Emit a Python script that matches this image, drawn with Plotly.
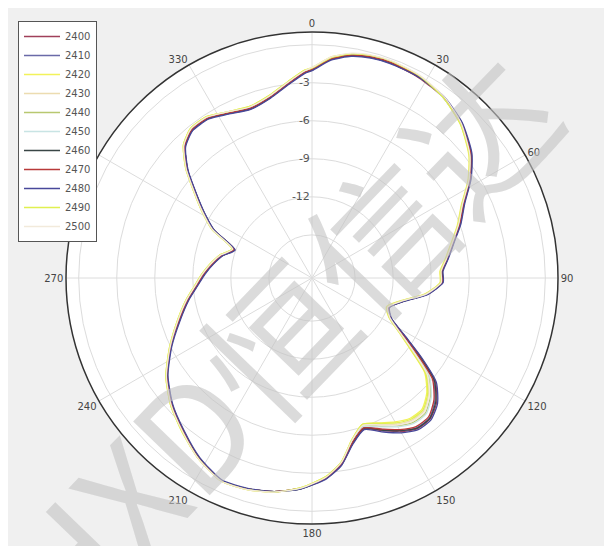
import plotly.graph_objects as go

# Angles (degrees, clockwise from top)
THETA = [0, 5, 10, 15, 20, 28, 36, 44, 52, 58,
         64, 70, 76, 82, 87, 92, 98, 104, 111, 117,
         122, 126, 130, 135, 140, 145, 150, 155, 161, 166,
         171, 176, 183, 190, 197, 204, 212, 220, 228, 236,
         244, 252, 260, 266, 272, 278, 284, 290, 296, 301,
         306, 311, 316, 321, 327, 333, 340, 347, 353, 358]

FREQS = ["2400", "2410", "2420", "2430", "2440", "2450",
         "2460", "2470", "2480", "2490", "2500"]

s2400 = [-2.0, -1.1, -0.6, -0.4, -0.35, -0.5, -0.8, -1.4, -2.5, -3.7,
         -5.1, -6.0, -6.9, -7.6, -8.1, -8.1, -9.2, -10.9, -11.9, -11.4,
         -9.8, -7.8, -5.7, -4.5, -3.9, -3.9, -4.4, -5.1, -5.8, -5.0,
         -3.5, -2.6, -1.8, -1.3, -1.0, -0.9, -1.6, -2.6, -3.5, -4.6,
         -6.0, -7.4, -8.5, -9.3, -9.9, -10.5, -11.1, -11.9, -9.8, -8.4,
         -7.1, -5.4, -4.0, -3.4, -3.4, -3.8, -4.2, -3.8, -3.0, -2.2]
s2410 = [-1.95, -1.05, -0.55, -0.35, -0.3, -0.45, -0.75, -1.4, -2.5, -3.7,
         -5.1, -6.0, -6.95, -7.65, -8.15, -8.15, -9.25, -10.9, -11.95, -11.45,
         -9.9, -8.0, -5.9, -4.7, -4.0, -4.0, -4.5, -5.2, -5.9, -5.1,
         -3.5, -2.6, -1.75, -1.3, -1.0, -0.9, -1.6, -2.6, -3.5, -4.6,
         -6.0, -7.35, -8.45, -9.25, -9.85, -10.45, -11.05, -11.85, -9.8, -8.5,
         -7.1, -5.4, -4.0, -3.35, -3.35, -3.8, -4.15, -3.75, -2.95, -2.15]
s2420 = [-1.8, -0.9, -0.45, -0.25, -0.2, -0.35, -0.8, -1.55, -2.7, -3.9,
         -5.3, -6.2, -7.1, -7.8, -8.3, -8.3, -9.4, -11.1, -12.1, -11.6,
         -10.3, -8.8, -6.8, -5.6, -4.9, -4.9, -5.3, -5.8, -6.2, -5.3,
         -3.7, -2.7, -1.85, -1.25, -0.95, -0.85, -1.55, -2.5, -3.4, -4.5,
         -5.9, -7.2, -8.3, -9.1, -9.7, -10.3, -10.9, -11.7, -9.6, -8.3,
         -6.9, -5.2, -3.8, -3.2, -3.2, -3.7, -4.0, -3.6, -2.8, -2.0]
s2430 = [-1.85, -0.95, -0.45, -0.25, -0.2, -0.35, -0.75, -1.5, -2.65, -3.85,
         -5.25, -6.15, -7.05, -7.75, -8.25, -8.25, -9.35, -11.05, -12.05, -11.55,
         -10.2, -8.6, -6.6, -5.4, -4.7, -4.7, -5.1, -5.65, -6.15, -5.25,
         -3.65, -2.65, -1.8, -1.25, -0.95, -0.85, -1.55, -2.55, -3.45, -4.55,
         -5.95, -7.25, -8.35, -9.15, -9.75, -10.35, -10.95, -11.75, -9.65, -8.35,
         -6.95, -5.25, -3.85, -3.25, -3.25, -3.7, -4.05, -3.65, -2.85, -2.05]
s2440 = [-1.9, -1.0, -0.5, -0.3, -0.25, -0.4, -0.8, -1.5, -2.6, -3.8,
         -5.2, -6.1, -7.0, -7.7, -8.2, -8.2, -9.3, -11.0, -12.0, -11.5,
         -10.1, -8.4, -6.4, -5.2, -4.5, -4.5, -4.95, -5.5, -6.05, -5.2,
         -3.6, -2.6, -1.8, -1.3, -1.0, -0.9, -1.6, -2.6, -3.5, -4.6,
         -6.0, -7.3, -8.4, -9.2, -9.8, -10.4, -11.0, -11.8, -9.7, -8.4,
         -7.0, -5.3, -3.9, -3.3, -3.3, -3.75, -4.1, -3.7, -2.9, -2.1]
s2450 = [-1.9, -1.0, -0.5, -0.3, -0.25, -0.4, -0.8, -1.5, -2.6, -3.8,
         -5.2, -6.1, -7.0, -7.7, -8.2, -8.2, -9.3, -11.0, -12.0, -11.5,
         -10.0, -8.3, -6.3, -5.1, -4.4, -4.4, -4.85, -5.45, -6.0, -5.2,
         -3.6, -2.6, -1.8, -1.3, -1.0, -0.9, -1.6, -2.6, -3.5, -4.6,
         -6.0, -7.3, -8.4, -9.2, -9.8, -10.4, -11.0, -11.8, -9.7, -8.4,
         -7.0, -5.3, -3.9, -3.3, -3.3, -3.75, -4.1, -3.7, -2.9, -2.1]
s2460 = [-2.0, -1.1, -0.6, -0.4, -0.35, -0.45, -0.75, -1.4, -2.45, -3.65,
         -5.05, -5.95, -6.9, -7.6, -8.1, -8.1, -9.2, -10.9, -11.9, -11.4,
         -9.8, -7.9, -5.8, -4.6, -3.95, -3.95, -4.5, -5.15, -5.85, -5.05,
         -3.5, -2.55, -1.75, -1.3, -1.0, -0.9, -1.65, -2.65, -3.55, -4.65,
         -6.05, -7.4, -8.5, -9.3, -9.9, -10.5, -11.1, -11.9, -9.8, -8.5,
         -7.1, -5.4, -4.0, -3.4, -3.4, -3.85, -4.2, -3.8, -3.0, -2.2]
s2470 = [-1.95, -1.05, -0.55, -0.35, -0.3, -0.4, -0.75, -1.45, -2.5, -3.7,
         -5.1, -6.0, -6.95, -7.65, -8.15, -8.15, -9.25, -10.95, -11.95, -11.45,
         -9.9, -8.1, -6.0, -4.8, -4.1, -4.1, -4.6, -5.25, -5.9, -5.1,
         -3.55, -2.6, -1.8, -1.3, -1.0, -0.9, -1.6, -2.6, -3.5, -4.6,
         -6.0, -7.35, -8.45, -9.25, -9.85, -10.45, -11.05, -11.85, -9.75, -8.45,
         -7.05, -5.35, -3.95, -3.35, -3.35, -3.8, -4.15, -3.75, -2.95, -2.15]
s2480 = [-2.05, -1.15, -0.65, -0.45, -0.4, -0.45, -0.7, -1.35, -2.4, -3.6,
         -5.0, -5.9, -6.85, -7.55, -8.05, -8.05, -9.15, -10.85, -11.85, -11.35,
         -9.7, -7.7, -5.6, -4.4, -3.8, -3.8, -4.3, -5.0, -5.75, -4.95,
         -3.45, -2.5, -1.75, -1.3, -1.05, -0.95, -1.7, -2.7, -3.6, -4.7,
         -6.1, -7.45, -8.55, -9.35, -9.95, -10.55, -11.15, -11.95, -9.85, -8.55,
         -7.15, -5.45, -4.05, -3.45, -3.45, -3.9, -4.25, -3.85, -3.05, -2.25]
s2490 = [-1.85, -0.95, -0.45, -0.25, -0.2, -0.35, -0.8, -1.55, -2.65, -3.85,
         -5.25, -6.15, -7.05, -7.75, -8.25, -8.25, -9.35, -11.05, -12.05, -11.55,
         -10.25, -8.7, -6.7, -5.5, -4.8, -4.8, -5.2, -5.75, -6.2, -5.3,
         -3.7, -2.7, -1.85, -1.25, -0.95, -0.85, -1.55, -2.5, -3.4, -4.5,
         -5.9, -7.2, -8.3, -9.1, -9.7, -10.3, -10.9, -11.7, -9.6, -8.3,
         -6.9, -5.2, -3.8, -3.2, -3.2, -3.7, -4.0, -3.6, -2.8, -2.0]
s2500 = [-1.8, -0.9, -0.4, -0.2, -0.15, -0.3, -0.7, -1.45, -2.6, -3.8,
         -5.2, -6.1, -7.0, -7.7, -8.2, -8.2, -9.3, -11.0, -12.0, -11.5,
         -10.15, -8.5, -6.5, -5.3, -4.6, -4.6, -5.0, -5.6, -6.1, -5.25,
         -3.65, -2.65, -1.8, -1.25, -0.95, -0.85, -1.55, -2.55, -3.45, -4.55,
         -5.95, -7.25, -8.35, -9.15, -9.75, -10.35, -10.95, -11.75, -9.65, -8.35,
         -6.95, -5.25, -3.85, -3.25, -3.25, -3.7, -4.05, -3.65, -2.85, -2.05]

SERIES = [s2400, s2410, s2420, s2430, s2440, s2450,
          s2460, s2470, s2480, s2490, s2500]
COLORS = ["#a0405a", "#6a6aa8", "#f2f25a", "#ecdcb0", "#b8c870", "#c8e4e4",
          "#3a4646", "#b83a3a", "#48489a", "#e0f050", "#f2eadb"]

RADIAL_TICKS = [-15, -12, -9, -6, -3, 0]
RADIAL_TEXT = ["", "-12", "-9", "-6", "-3", ""]
ANGLE_TICKS = list(range(0, 360, 30))

fig = go.Figure()
for name, vals, col in zip(FREQS, SERIES, COLORS):
    fig.add_trace(go.Scatterpolar(
        r=vals + vals[:1], theta=THETA + [360],
        mode="lines", name=name,
        line=dict(color=col, width=1.3, shape="spline", smoothing=0.6),
    ))

# The page places the figure 8 px from the window's top-left corner.
OFF = 8
W, H = 612 - OFF, 546 - OFF
# polar circle in window pixels: centre (312, 278), radius 246 px
CX, CY, RAD = 312, 278, 246


def px(x):
    return (x - OFF) / W


def py(y):
    return 1 - (y - OFF) / H


fig.update_layout(
    width=W, height=H,
    margin=dict(l=0, r=0, t=0, b=0, autoexpand=False),
    paper_bgcolor="#f0f0f0",
    font=dict(family="DejaVu Sans", size=10, color="#444444"),
    polar=dict(
        bgcolor="white",
        domain=dict(x=[px(CX - RAD), px(CX + RAD)],
                    y=[py(CY + RAD), py(CY - RAD)]),
        angularaxis=dict(
            direction="clockwise", rotation=90,
            tickmode="array", tickvals=ANGLE_TICKS,
            ticktext=[str(a) for a in ANGLE_TICKS],
            showline=True, linecolor="#333333", linewidth=1.5,
            gridcolor="#dcdcdc", gridwidth=1,
            ticks="", tickfont=dict(size=10, color="#444444"),
        ),
        radialaxis=dict(
            range=[-18.4, 1.0], angle=90, tickangle=90,
            side="counterclockwise",
            tickmode="array", tickvals=RADIAL_TICKS, ticktext=RADIAL_TEXT,
            showline=False, ticks="",
            gridcolor="#dcdcdc", gridwidth=1,
            tickfont=dict(size=11, color="#555555"),
        ),
    ),
    showlegend=True,
    legend=dict(
        x=px(18), y=py(21), xanchor="left", yanchor="top",
        bgcolor="white", bordercolor="#555555", borderwidth=1,
        font=dict(size=10, color="#555555"),
        itemwidth=36, tracegroupgap=0,
    ),
    annotations=[dict(
        text="HXD恒信达", xref="paper", yref="paper",
        x=px(274), y=py(338), showarrow=False, textangle=-46,
        font=dict(family="Noto Sans CJK SC", size=145, color="rgba(195,195,195,0.6)"),
    )],
)

fig.write_html("out.html")
